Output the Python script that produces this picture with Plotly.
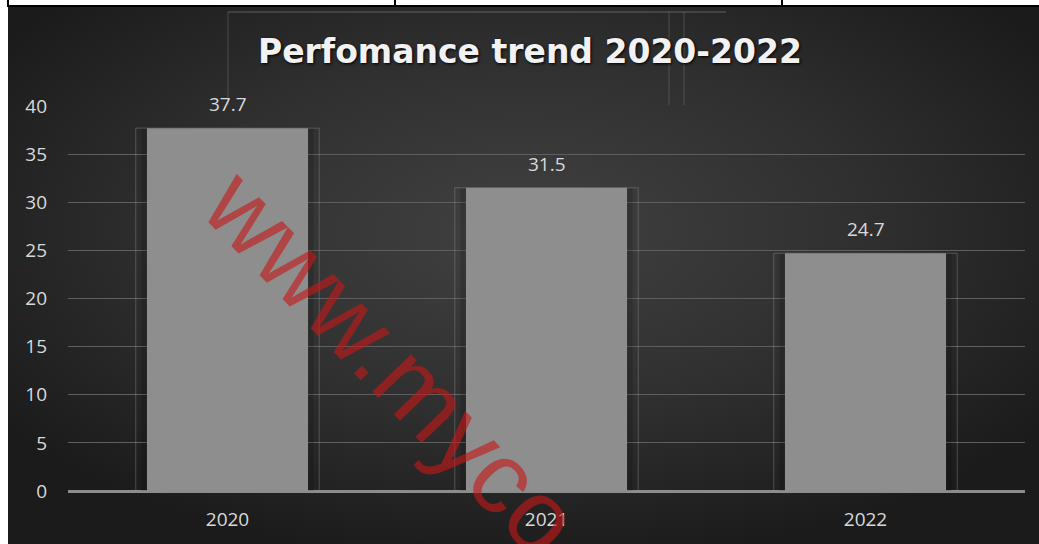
import plotly.graph_objects as go
import base64

years = ["2020", "2021", "2022"]
values = [37.7, 31.5, 24.7]
labels = ["37.7", "31.5", "24.7"]
title_text = "Perfomance trend 2020-2022"
watermark = "www.myco"

W, H = 1039, 544
L, R, T, B = 68, 14, 106, 53
pw, ph = W - L - R, H - T - B

def px_x(p):
    return (p - L) / pw

def px_y(p):
    return (H - B - p) / ph

svg = (
    '<svg xmlns="http://www.w3.org/2000/svg" width="1031" height="537" viewBox="0 0 1031 537">'
    '<defs><radialGradient id="g" cx="0.5" cy="0.42" r="0.62">'
    '<stop offset="0" stop-color="#414141"/>'
    '<stop offset="0.55" stop-color="#2f2f2f"/>'
    '<stop offset="1" stop-color="#1b1b1b"/>'
    '</radialGradient></defs>'
    '<rect width="1031" height="537" fill="url(#g)"/></svg>'
)
bg_src = "data:image/svg+xml;base64," + base64.b64encode(svg.encode()).decode()

fig = go.Figure()

# soft shadow behind bars
fig.add_trace(go.Bar(
    x=years, y=values, width=0.54,
    marker=dict(color="rgba(0,0,0,0.14)", line=dict(width=0)),
    hoverinfo="skip", showlegend=False,
))
# thin outline frames
fig.add_trace(go.Bar(
    x=years, y=values, width=0.575,
    marker=dict(color="rgba(0,0,0,0)", line=dict(color="rgba(150,150,150,0.4)", width=1)),
    hoverinfo="skip", showlegend=False,
))
# main bars
fig.add_trace(go.Bar(
    x=years, y=values, width=0.505,
    marker=dict(color="#8e8e8e", line=dict(width=0)),
    showlegend=False,
))

annotations = []
for i, (v, lab) in enumerate(zip(values, labels)):
    annotations.append(dict(
        x=i, y=v, xref="x", yref="y", text=lab, showarrow=False,
        yanchor="bottom", yshift=9,
        font=dict(family="Open Sans, Lato, sans-serif", size=19, color="#d9d9d9"),
    ))

annotations.append(dict(
    x=px_x(530), y=px_y(51), xref="paper", yref="paper",
    text="<b>" + title_text + "</b>", showarrow=False,
    xanchor="center", yanchor="middle",
    font=dict(family="DejaVu Sans, sans-serif", size=33, color="#f2f2f2",
              shadow="1px 1px 3px #000"),
))
annotations.append(dict(
    x=px_x(392), y=px_y(362), xref="paper", yref="paper",
    text=watermark, showarrow=False, textangle=46,
    xanchor="center", yanchor="middle",
    font=dict(family="Liberation Sans, Arial, sans-serif", size=102,
              color="rgba(195,25,25,0.62)"),
))

shapes = [
    dict(type="line", xref="paper", yref="paper", x0=px_x(7), x1=px_x(W), y0=px_y(6), y1=px_y(6),
         line=dict(color="#000000", width=2), layer="above"),
    dict(type="line", xref="paper", yref="paper", x0=px_x(8), x1=px_x(8), y0=px_y(0), y1=px_y(7),
         line=dict(color="#000000", width=2), layer="above"),
    dict(type="line", xref="paper", yref="paper", x0=px_x(395), x1=px_x(395), y0=px_y(0), y1=px_y(7),
         line=dict(color="#000000", width=2), layer="above"),
    dict(type="line", xref="paper", yref="paper", x0=px_x(782), x1=px_x(782), y0=px_y(0), y1=px_y(7),
         line=dict(color="#000000", width=2), layer="above"),
    dict(type="line", xref="paper", yref="paper", x0=px_x(228), x1=px_x(726), y0=px_y(12), y1=px_y(12),
         line=dict(color="rgba(120,120,120,0.7)", width=1), layer="below"),
    dict(type="line", xref="paper", yref="paper", x0=px_x(228), x1=px_x(228), y0=px_y(12), y1=px_y(105),
         line=dict(color="rgba(120,120,120,0.45)", width=1), layer="below"),
    dict(type="line", xref="paper", yref="paper", x0=px_x(669), x1=px_x(669), y0=px_y(12), y1=px_y(105),
         line=dict(color="rgba(120,120,120,0.45)", width=1), layer="below"),
    dict(type="line", xref="paper", yref="paper", x0=px_x(684), x1=px_x(684), y0=px_y(12), y1=px_y(105),
         line=dict(color="rgba(120,120,120,0.45)", width=1), layer="below"),
]

fig.update_layout(
    width=W, height=H,
    margin=dict(l=L, r=R, t=T, b=B, autoexpand=False),
    paper_bgcolor="#ffffff",
    plot_bgcolor="rgba(0,0,0,0)",
    barmode="overlay",
    showlegend=False,
    images=[dict(
        source=bg_src, xref="paper", yref="paper",
        x=px_x(8), y=px_y(7), sizex=(W - 8) / pw, sizey=(H - 7) / ph,
        xanchor="left", yanchor="top", sizing="stretch", layer="below",
    )],
    annotations=annotations,
    shapes=shapes,
    xaxis=dict(
        type="category", categoryorder="array", categoryarray=years,
        range=[-0.5, 2.5], autorange=False,
        showgrid=False, showline=False, zeroline=False, ticks="",
        tickfont=dict(family="Open Sans, Lato, sans-serif", size=19, color="#d9d9d9"),
        ticklabelstandoff=15,
    ),
    yaxis=dict(
        range=[0, 40], autorange=False,
        tickmode="array", tickvals=[0, 5, 10, 15, 20, 25, 30, 35, 40],
        showgrid=True, gridcolor="#5f5f5f", gridwidth=1,
        zeroline=True, zerolinecolor="#8c8c8c", zerolinewidth=3,
        showline=False, ticks="",
        tickfont=dict(family="Open Sans, Lato, sans-serif", size=19, color="#d9d9d9"),
        ticklabelstandoff=20,
    ),
)

fig.write_html("out.html", config={"displayModeBar": False},
               post_script="document.body.style.margin='0';document.body.style.padding='0';")
